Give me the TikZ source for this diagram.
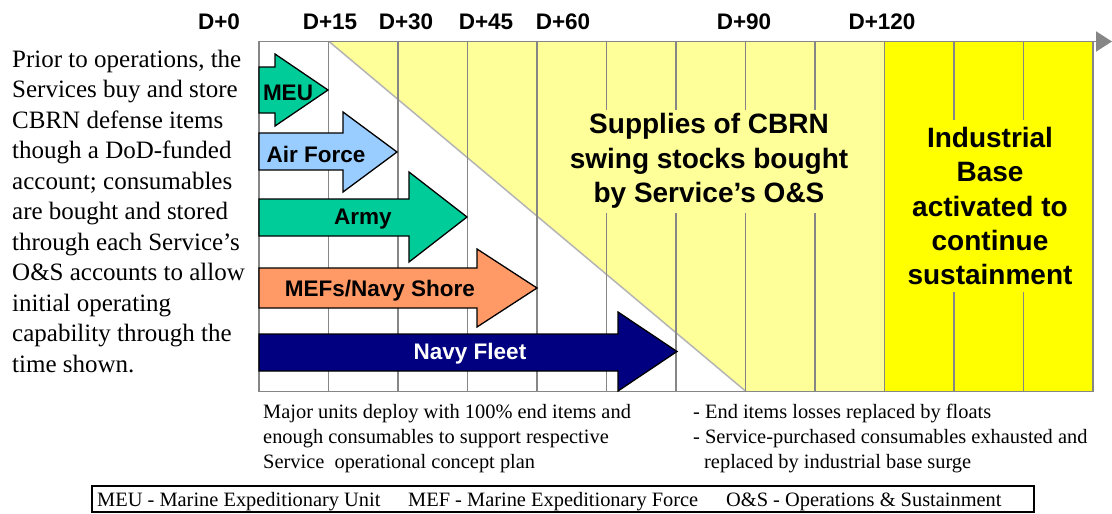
\documentclass[tikz,border=0pt]{standalone}
\usepackage{fontspec}
\setmainfont{Liberation Serif}
\newfontfamily\arialfont{Liberation Sans}
\usetikzlibrary{arrows.meta}
\definecolor{paleyellow}{HTML}{FFFF99}
\definecolor{brightyellow}{HTML}{FFFF00}
\definecolor{gridgray}{HTML}{868686}
\definecolor{diaggray}{HTML}{B4B4B4}
\definecolor{seagreen}{HTML}{00CC99}
\definecolor{skyblue}{HTML}{99CCFF}
\definecolor{salmon}{HTML}{FF9966}
\definecolor{deepnavy}{HTML}{000080}

% block arrow: fill, left x, body top, body bottom, head top, head bottom, head x, tip x
\newcommand\blockarrowpath[8]{%
  \filldraw[blockarrow, fill=#1] (#2,#3) -- (#7,#3) -- (#7,#5) -- (#8,{(#5+#6)/2})
    -- (#7,#6) -- (#7,#4) -- (#2,#4) -- cycle;}

\begin{document}
\begin{tikzpicture}[x=1pt, y=-1pt,
  gridline/.style={draw=gridgray, line width=1.8pt},
  blockarrow/.style={draw=black, line width=1.3pt, line join=miter},
  daylabel/.style={font=\arialfont\bfseries\fontsize{22.5}{27}\selectfont, anchor=base, inner sep=0pt},
  arrowlabel/.style={font=\arialfont\bfseries\fontsize{22.5}{27}\selectfont, inner sep=0pt},
  bigtext/.style={font=\arialfont\bfseries\fontsize{28}{34.3}\selectfont, align=center, inner sep=0pt},
  notetext/.style={font=\fontsize{20.4}{25}\selectfont, align=left, anchor=base west, inner sep=0pt},
  sidetext/.style={font=\fontsize{25}{30.5}\selectfont, align=left, anchor=base west, inner sep=0pt}]

\useasboundingbox (0,0) rectangle (1112,514);

% background areas of the timeline
\fill[paleyellow] (329,41.5) -- (885,41.5) -- (885,391.5) -- (746,391.5) -- cycle;
\fill[brightyellow] (885,41.5) rectangle (1093,391.5);
\draw[diaggray, line width=1.5pt] (329,41.5) -- (746,391.5);

% grid of 15-day columns
\foreach \gx in {259,328.5,398,467.5,537,606.5,676,745.5,815,884.5,954,1023.5,1093}
  \draw[gridline] (\gx,41.5) -- (\gx,391.5);
\draw[gridline] (258.1,391.5) -- (1093.9,391.5);
\coordinate (axisstart) at (258.1,41.5);
\coordinate (axisend) at (1112,41.5);
\draw[gridline, -{Triangle[length=16pt,width=20pt]}] (axisstart) -- (axisend);

% day labels
\node[daylabel] (d0) at (219,30) {D+0};
\node[daylabel] (d15) at (330,30) {D+15};
\node[daylabel] (d30) at (406,30) {D+30};
\node[daylabel] (d45) at (486,30) {D+45};
\node[daylabel] (d60) at (563,30) {D+60};
\node[daylabel] (d90) at (744,30) {D+90};
\node[daylabel] (d120) at (882,30) {D+120};

% phase descriptions
\node[bigtext, fill=paleyellow, minimum width=260pt, minimum height=103pt] (swing) at (709,161)
  {Supplies of CBRN\\swing stocks bought\\by Service’s O\&S};
\node[bigtext, fill=brightyellow, minimum width=150pt, minimum height=172pt] (industrial) at (990,206)
  {Industrial\\Base\\activated to\\continue\\sustainment};

% deployment arrows
\blockarrowpath{seagreen}{259}{67}{113}{54}{126}{275}{328}
\blockarrowpath{skyblue}{259}{133}{170}{112}{192}{343}{397}
\blockarrowpath{seagreen}{259}{199}{236}{172}{262}{409}{467}
\blockarrowpath{salmon}{259}{268}{308}{249}{327}{477}{537}
\blockarrowpath{deepnavy}{259}{334}{371}{312}{391}{618}{677}

\node[arrowlabel] (meu) at (288,92.5) {MEU};
\node[arrowlabel] (airforce) at (316,154) {Air Force};
\node[arrowlabel] (army) at (363,219) {Army};
\node[arrowlabel] (mefs) at (380,291) {MEFs/Navy Shore};
\node[arrowlabel, text=white] (fleet) at (470,354) {Navy Fleet};

% explanatory text (anchored at the baseline of the last line)
\node[sidetext] (prior) at (12,372)
  {Prior to operations, the\\Services buy and store\\CBRN defense items\\though a DoD-funded\\account; consumables\\are bought and stored\\through each Service’s\\O\&S accounts to allow\\initial operating\\capability through the\\time shown.};
\node[notetext] (deploy) at (263,468)
  {Major units deploy with 100\% end items and\\enough consumables to support respective\\Service~ operational concept plan};
\node[notetext] (losses) at (693,468)
  {- End items losses replaced by floats\\- Service-purchased consumables exhausted and\\\hspace*{11pt}replaced by industrial base surge};

% abbreviation legend
\draw[black, line width=1.3pt] (92,486) rectangle (1034,512);
\node[notetext] (legmeu) at (97,506) {MEU - Marine Expeditionary Unit};
\node[notetext] (legmef) at (408,506) {MEF - Marine Expeditionary Force};
\node[notetext] (legos) at (726,506) {O\&S - Operations \& Sustainment};
\end{tikzpicture}
\end{document}
